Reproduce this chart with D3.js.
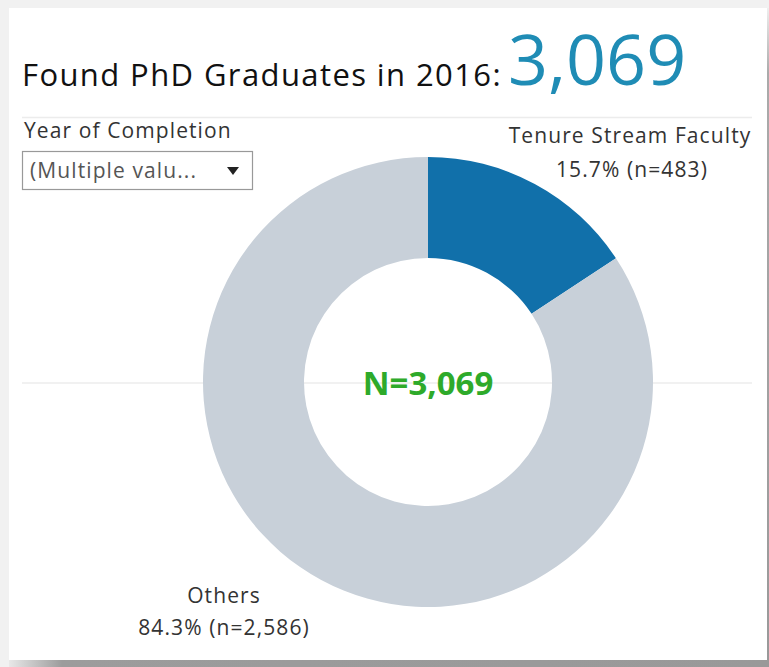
<!doctype html>
<html>
<head>
<meta charset="utf-8"/>
<title>Found PhD Graduates in 2016</title>
<script src="https://d3js.org/d3.v7.min.js"></script>
<style>
body { margin:0; background:#f1f1f1; }
text { font-family:"Open Sans", sans-serif; }
.lbl { letter-spacing:1.1px; }
</style>
</head>
<body>
<script>
// data
var categories = ["Tenure Stream Faculty", "Others"];
var counts = [483, 2586];
var colours = ["#1170aa", "#c8d0d9"];
var yearFilter = "(Multiple valu...";
var titleText = "Found PhD Graduates in 2016:";

var W = 769, H = 667;
var total = d3.sum(counts);
var fmt = d3.format(",");
var pct = d3.format(".1%");

var svg = d3.select("body").append("svg")
    .attr("width", W).attr("height", H);

// card background + shadow
var defs = svg.append("defs");
var g1 = defs.append("linearGradient").attr("id", "botshade");
g1.append("stop").attr("offset", "0%").attr("stop-color", "#e8e8e8");
g1.append("stop").attr("offset", "7%").attr("stop-color", "#9c9c9c");
g1.append("stop").attr("offset", "100%").attr("stop-color", "#999");
var g2 = defs.append("linearGradient").attr("id", "rightshade")
    .attr("x1", 0).attr("y1", 0).attr("x2", 0).attr("y2", 1);
g2.append("stop").attr("offset", "0%").attr("stop-color", "#eee");
g2.append("stop").attr("offset", "10%").attr("stop-color", "#aaa");
g2.append("stop").attr("offset", "100%").attr("stop-color", "#999");

svg.append("rect").attr("width", W).attr("height", H).attr("fill", "#f1f1f1");
svg.append("rect").attr("x", 9).attr("y", 660).attr("width", W - 9).attr("height", 7).attr("fill", "url(#botshade)");
svg.append("rect").attr("x", 767).attr("y", 8).attr("width", 2).attr("height", 652).attr("fill", "url(#rightshade)");
svg.append("rect").attr("x", 9).attr("y", 8).attr("width", 758).attr("height", 652).attr("fill", "#fff");

// title
var title = svg.append("text").attr("x", 22).attr("y", 86)
    .attr("font-size", 31).attr("letter-spacing", "1.4px").attr("fill", "#111").text(titleText);
var tEnd = 22 + title.node().getComputedTextLength();
svg.append("text").attr("x", tEnd + 6).attr("y", 85)
    .attr("font-size", 70).attr("fill", "#1f8cb5").text(fmt(total));

svg.append("line").attr("x1", 22).attr("x2", 752).attr("y1", 117.5).attr("y2", 117.5)
    .attr("stroke", "#ececec").attr("stroke-width", 1.5);

// gridline behind donut
var cx = 428, cy = 382, R = 225, r0 = 124;
svg.append("line").attr("x1", 22).attr("x2", 752).attr("y1", 383).attr("y2", 383)
    .attr("stroke", "#ececec").attr("stroke-width", 1.5);

// filter control
svg.append("text").attr("class", "lbl").attr("x", 24).attr("y", 138)
    .attr("font-size", 21).attr("fill", "#333").text("Year of Completion");
svg.append("rect").attr("x", 22.5).attr("y", 151.5).attr("width", 230).attr("height", 38)
    .attr("fill", "#fff").attr("stroke", "#999").attr("stroke-width", 1.2);
svg.append("text").attr("class", "lbl").attr("x", 30).attr("y", 178)
    .attr("font-size", 21).attr("fill", "#555").text(yearFilter);
svg.append("path").attr("d", "M227,167 L239,167 L233,175 Z").attr("fill", "#222");

// donut
var pie = d3.pie().sort(null).value(function(d){ return d; });
var arc = d3.arc().innerRadius(r0).outerRadius(R);
var arcs = pie(counts);

var chart = svg.append("g").attr("transform", "translate(" + cx + "," + cy + ")");
chart.selectAll("path.slice")
    .data(arcs)
    .enter()
    .append("path")
    .attr("class", "slice")
    .attr("d", arc)
    .attr("fill", function(d, i){ return colours[i]; });

chart.append("text").attr("x", 0).attr("y", 13).attr("text-anchor", "middle")
    .attr("font-size", 33).attr("font-weight", "bold").attr("fill", "#2eaa2a")
    .text("N=" + fmt(total));

// slice labels
var labelPos = [[630, 143, 177], [224, 603, 635]];
arcs.forEach(function(a, i){
    var p = labelPos[i];
    var t = svg.append("text").attr("class", "lbl").attr("text-anchor", "middle")
        .attr("font-size", 21).attr("fill", "#333");
    t.append("tspan").attr("x", p[0]).attr("y", p[1]).text(categories[i]);
    t.append("tspan").attr("x", p[0] + (i == 0 ? 2 : 0)).attr("y", p[2])
        .text(pct(counts[i] / total) + " (n=" + fmt(counts[i]) + ")");
});
</script>
</body>
</html>
